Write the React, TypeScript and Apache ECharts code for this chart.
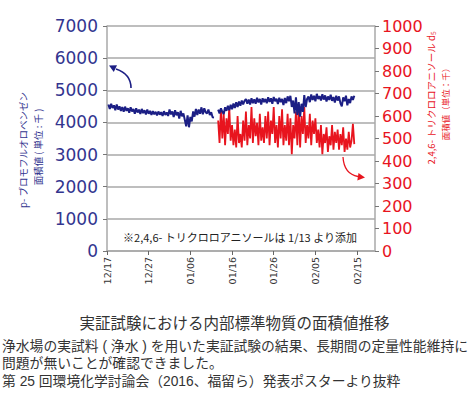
import React, { useEffect, useRef } from 'react';
import * as echarts from 'echarts';

// x-axis: days since 12/17
const xTickDays = [0, 10, 20, 30, 40, 50, 60];
const xTickLabels = ['12/17', '12/27', '01/06', '01/16', '01/26', '02/05', '02/15'];

const step = 1 / 3; // sampling interval (days)
const blueAStart = 1 / 3;
const blueBStart = 26 + 2 / 3;
const redStart = 26 + 2 / 3;

// p-bromofluorobenzene area (left axis), before gap
const blueA = [
  4560, 4420, 4580, 4450, 4530, 4380, 4560, 4400, 4500, 4360, 4480,
  4330, 4490, 4360, 4440, 4300, 4470, 4340, 4420, 4270, 4440, 4310, 4400, 4260, 4420, 4290, 4380, 4250,
  4400, 4270, 4360, 4230, 4350, 4250, 4330, 4220, 4340, 4240, 4320, 4200, 4350, 4230, 4310, 4200,
  4400, 4250, 4340, 4170, 4380, 4220, 4320, 4120, 4360, 4190, 4280, 4080,
  3880, 4220, 3850, 4170, 4030,
  4340, 4180, 4420, 4230, 4400, 4270, 4470, 4250, 4440, 4320, 4280, 4400,
  4230, 4320, 4160, 4150,
];

// p-bromofluorobenzene area (left axis), after gap
const blueB = [
  4400, 4280, 4440, 4330, 4260, 4470, 4360, 4520, 4380, 4550, 4410,
  4590, 4450, 4630, 4480, 4650, 4520, 4680, 4560, 4670,
  4730, 4580, 4710, 4560, 4750, 4600, 4720, 4580, 4770, 4620, 4730, 4560, 4750, 4630, 4730,
  4600, 4780, 4640, 4750, 4580, 4790, 4660, 4740, 4570, 4770, 4630, 4730, 4540, 4760, 4600, 4810, 4660,
  4830, 4480, 4680, 4280, 4780, 4230, 4630, 4180, 4580, 4330, 4850, 4480, 4730,
  4810, 4630, 4870, 4700, 4830, 4660, 4890, 4730, 4820, 4680, 4880, 4710, 4840, 4650, 4810, 4700, 4860, 4670, 4790, 4620, 4830,
  4680, 4810, 4600, 4500, 4780, 4660, 4830, 4530, 4730, 4600, 4810, 4700, 4830,
];

// 2,4,6-trichloroanisole-d5 area (right axis)
const red = [
  580, 480, 630, 500, 610, 470, 590, 520, 640, 490, 560,
  470, 540, 460, 600, 480, 520, 460, 580, 490,
  620, 470, 560, 500, 640, 480, 590, 510, 570, 470, 610, 490, 550, 480, 600,
  500, 620, 470, 580, 520, 640, 480, 560, 460, 600, 500, 630, 470, 560, 490, 610, 470,
  590, 430, 560, 500, 620, 470, 640, 460, 600, 520, 640, 480, 560,
  500, 610, 470, 580, 520, 590, 480, 540, 460, 560, 430, 520, 480, 550, 440, 510, 470, 560, 450, 530, 480,
  540, 450, 520, 470, 550, 440, 500, 450, 530, 460, 490, 565, 475,
];

const captionLines = [
  '浄水場の実試料 ( 浄水 ) を用いた実証試験の結果、長期間の定量性能維持に',
  '問題が無いことが確認できました。',
  '第 25 回環境化学討論会（2016、福留ら）発表ポスターより抜粋',
];

const BLUE = '#1c1f85';
const BLUE_TXT = '#33358f';
const RED = '#e8141e';
const GRID = '#a8a8a8';
const JP = '"Noto Sans CJK JP", "Noto Sans", sans-serif';
const JP_TIGHT = '"Liberation Sans", "Noto Sans CJK JP", sans-serif';

const toPairs = (start: number, arr: number[]) => arr.map((v, i) => [start + i * step, v]);

export default function App() {
  const ref = useRef<HTMLDivElement>(null);
  useEffect(() => {
    if (!ref.current) return;
    const chart = echarts.init(ref.current, undefined, { renderer: 'svg' });
    const option: any = {
      animation: false,
      backgroundColor: '#ffffff',
      grid: { left: 107, right: 94, top: 26, bottom: 145, containLabel: false },
      xAxis: {
        type: 'value',
        min: 0,
        max: 64.3,
        interval: 10,
        axisLine: { show: true, lineStyle: { color: GRID, width: 1.5 } },
        axisTick: { show: true, customValues: xTickDays, length: 4, lineStyle: { color: '#666', width: 1 } },
        axisLabel: {
          customValues: xTickDays,
          formatter: (v: number) => {
            const i = xTickDays.indexOf(Math.round(v));
            return i >= 0 ? xTickLabels[i] : '';
          },
          rotate: 90,
          fontSize: 9.5,
          color: '#333',
          margin: 6,
          fontFamily: 'DejaVu Sans',
        },
        splitLine: { show: false },
      },
      yAxis: [
        {
          type: 'value',
          position: 'left',
          min: 0,
          max: 7000,
          interval: 1000,
          axisLine: { show: true, lineStyle: { color: GRID, width: 1.5 } },
          axisTick: { show: true, length: 4, lineStyle: { color: '#777' } },
          axisLabel: { color: BLUE_TXT, fontSize: 17, margin: 9, fontFamily: 'DejaVu Sans', formatter: (v: number) => String(v) },
          splitLine: { show: true, lineStyle: { color: GRID, width: 1.5 } },
        },
        {
          type: 'value',
          position: 'right',
          min: 0,
          max: 1000,
          interval: 100,
          axisLine: { show: true, lineStyle: { color: GRID, width: 1.5 } },
          axisTick: { show: true, length: 4, lineStyle: { color: '#777' } },
          axisLabel: { color: RED, fontSize: 16, margin: 7, fontFamily: 'DejaVu Sans', formatter: (v: number) => String(v) },
          splitLine: { show: false },
        },
      ],
      series: [
        {
          type: 'line', yAxisIndex: 0, data: toPairs(blueAStart, blueA), symbol: 'none',
          lineStyle: { color: BLUE, width: 2 }, z: 3,
        },
        {
          type: 'line', yAxisIndex: 0, data: toPairs(blueBStart, blueB), symbol: 'none',
          lineStyle: { color: BLUE, width: 2 }, z: 3,
        },
        {
          type: 'line', yAxisIndex: 1, data: toPairs(redStart, red), symbol: 'none',
          lineStyle: { color: RED, width: 1.8 }, z: 2,
        },
      ],
      graphic: [
        // left axis name
        {
          type: 'text', x: 23, y: 150, rotation: Math.PI / 2,
          style: { text: 'p- ブロモフルオロベンゼン', fontSize: 9.5, fill: BLUE_TXT, align: 'center', verticalAlign: 'middle', fontFamily: JP },
        },
        {
          type: 'text', x: 38, y: 147, rotation: Math.PI / 2,
          style: { text: '面積値 ( 単位 : 千 )', fontSize: 9.5, fill: BLUE_TXT, align: 'center', verticalAlign: 'middle', fontFamily: JP },
        },
        // right axis name
        {
          type: 'text', x: 431, y: 98, rotation: Math.PI / 2,
          style: {
            text: '{a|2,4,6- トリクロロアニソール d}{b|5}',
            align: 'center', verticalAlign: 'middle',
            rich: {
              a: { fontSize: 9.5, fill: RED, fontFamily: JP },
              b: { fontSize: 6.5, fill: RED, fontFamily: JP, verticalAlign: 'bottom' },
            },
          },
        },
        {
          type: 'text', x: 445, y: 102, rotation: Math.PI / 2,
          style: { text: '面積値（単位：千）', fontSize: 8.5, fill: RED, align: 'center', verticalAlign: 'middle', fontFamily: JP },
        },
        // note
        {
          type: 'text', x: 240, y: 237,
          style: { text: '※2,4,6- トリクロロアニソールは 1/13 より添加', fontSize: 11, fill: '#222', align: 'center', verticalAlign: 'middle', fontFamily: JP },
        },
        // blue arrow
        {
          type: 'bezierCurve',
          shape: { x1: 131, y1: 88, cpx1: 131, cpy1: 74, x2: 116, y2: 69 },
          style: { stroke: BLUE, lineWidth: 1.6, fill: 'none' }, z: 10,
        },
        {
          type: 'polygon',
          shape: { points: [[109, 65.5], [117, 65.3], [113.8, 72]] },
          style: { fill: BLUE }, z: 10,
        },
        // red arrow
        {
          type: 'bezierCurve',
          shape: { x1: 343, y1: 157, cpx1: 344, cpy1: 174, x2: 358, y2: 176.5 },
          style: { stroke: RED, lineWidth: 1.3, fill: 'none' }, z: 10,
        },
        {
          type: 'polygon',
          shape: { points: [[365, 177.5], [357.3, 180.5], [358.5, 173]] },
          style: { fill: RED }, z: 10,
        },
        // caption
        {
          type: 'text', x: 234.5, y: 322,
          style: { text: '実証試験における内部標準物質の面積値推移', fontSize: 15.5, lineHeight: 16, fill: '#333', align: 'center', verticalAlign: 'middle', fontFamily: JP },
        },
        ...captionLines.map((t, i) => ({
          type: 'text', x: 2, y: 346 + i * 17.5,
          style: { text: t, fontSize: 13.8, lineHeight: 14, fill: '#333', align: 'left', verticalAlign: 'middle', fontFamily: JP_TIGHT },
        })),
      ],
    };
    chart.setOption(option);
    return () => chart.dispose();
  }, []);
  return (
    <div
      ref={ref}
      style={{ position: 'fixed', left: 0, top: 0, width: 469, height: 396, background: '#fff' }}
    />
  );
}
